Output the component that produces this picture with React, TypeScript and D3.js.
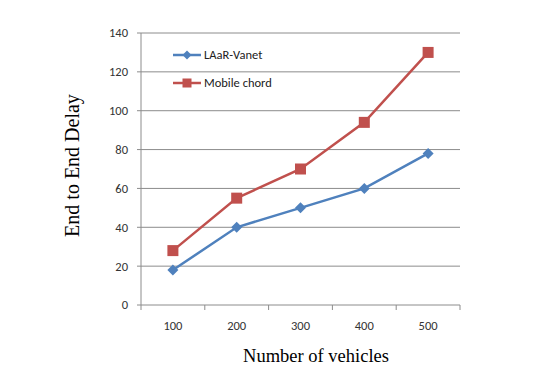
import React from "react";
import * as d3 from "d3";

const categories = ["100", "200", "300", "400", "500"];
const laar = [18, 40, 50, 60, 78];
const mobile = [28, 55, 70, 94, 130];
const yTicks = [0, 20, 40, 60, 80, 100, 120, 140];

const W = 548, H = 380;
const L = 141, R = 460, T = 33, B = 305;

export default function App() {
  const x = d3.scaleBand().domain(categories).range([L, R]);
  const y = d3.scaleLinear().domain([0, 140]).range([B, T]);
  const cx = (c: string) => (x(c) as number) + x.bandwidth() / 2;
  const line = d3.line<number>().x((_, i) => cx(categories[i])).y((d) => y(d));
  const blue = "#4F81BD", red = "#C0504D";
  const font = "Carlito, Lato, 'Liberation Sans', Arial, sans-serif";
  const serif = "'Liberation Serif', 'Times New Roman', serif";
  const diamond = (px: number, py: number, r = 5.5) =>
    `M${px},${py - r}L${px + r},${py}L${px},${py + r}L${px - r},${py}Z`;
  const bounds = [...categories.map((c) => x(c) as number), R];
  return (
    <svg width={W} height={H} style={{ position: "absolute", left: 0, top: 0, background: "#fff" }}>
      {yTicks.map((t) => (
        <g key={t}>
          <line x1={L - 4} x2={R} y1={y(t)} y2={y(t)} stroke="#8c8c8c" strokeWidth={1} />
          <text x={L - 13} y={y(t)} dy="0.35em" textAnchor="end" fontFamily={font} fontSize={12.5} fill="#333">{t}</text>
        </g>
      ))}
      <line x1={L} x2={L} y1={T} y2={B} stroke="#8c8c8c" />
      {bounds.map((b, i) => (
        <line key={i} x1={b} x2={b} y1={B} y2={B + 5} stroke="#8c8c8c" />
      ))}
      {categories.map((c) => (
        <text key={c} x={cx(c)} y={326} dy="0.35em" textAnchor="middle" fontFamily={font} fontSize={12.5} fill="#333">{c}</text>
      ))}
      <path d={line(mobile) as string} fill="none" stroke={red} strokeWidth={2.5} />
      <path d={line(laar) as string} fill="none" stroke={blue} strokeWidth={2.5} />
      {mobile.map((v, i) => (
        <rect key={i} x={cx(categories[i]) - 5.5} y={y(v) - 5.5} width={11} height={11} fill={red} />
      ))}
      {laar.map((v, i) => (
        <path key={i} d={diamond(cx(categories[i]), y(v))} fill={blue} />
      ))}
      <line x1={173} x2={201} y1={55} y2={55} stroke={blue} strokeWidth={2.5} />
      <path d={diamond(187, 55, 4.5)} fill={blue} />
      <text x={204} y={55} dy="0.35em" fontFamily={font} fontSize={12.5} fill="#222">LAaR-Vanet</text>
      <line x1={173} x2={201} y1={83} y2={83} stroke={red} strokeWidth={2.5} />
      <rect x={182.5} y={78.5} width={9} height={9} fill={red} />
      <text x={204} y={83} dy="0.35em" fontFamily={font} fontSize={12.5} fill="#222">Mobile chord</text>
      <text transform={`translate(79,${165.5}) rotate(-90)`} textAnchor="middle" fontFamily={serif} fontSize={20} fill="#000">End to End Delay</text>
      <text x={316} y={362} textAnchor="middle" fontFamily={serif} fontSize={18.5} fill="#000">Number of vehicles</text>
    </svg>
  );
}
